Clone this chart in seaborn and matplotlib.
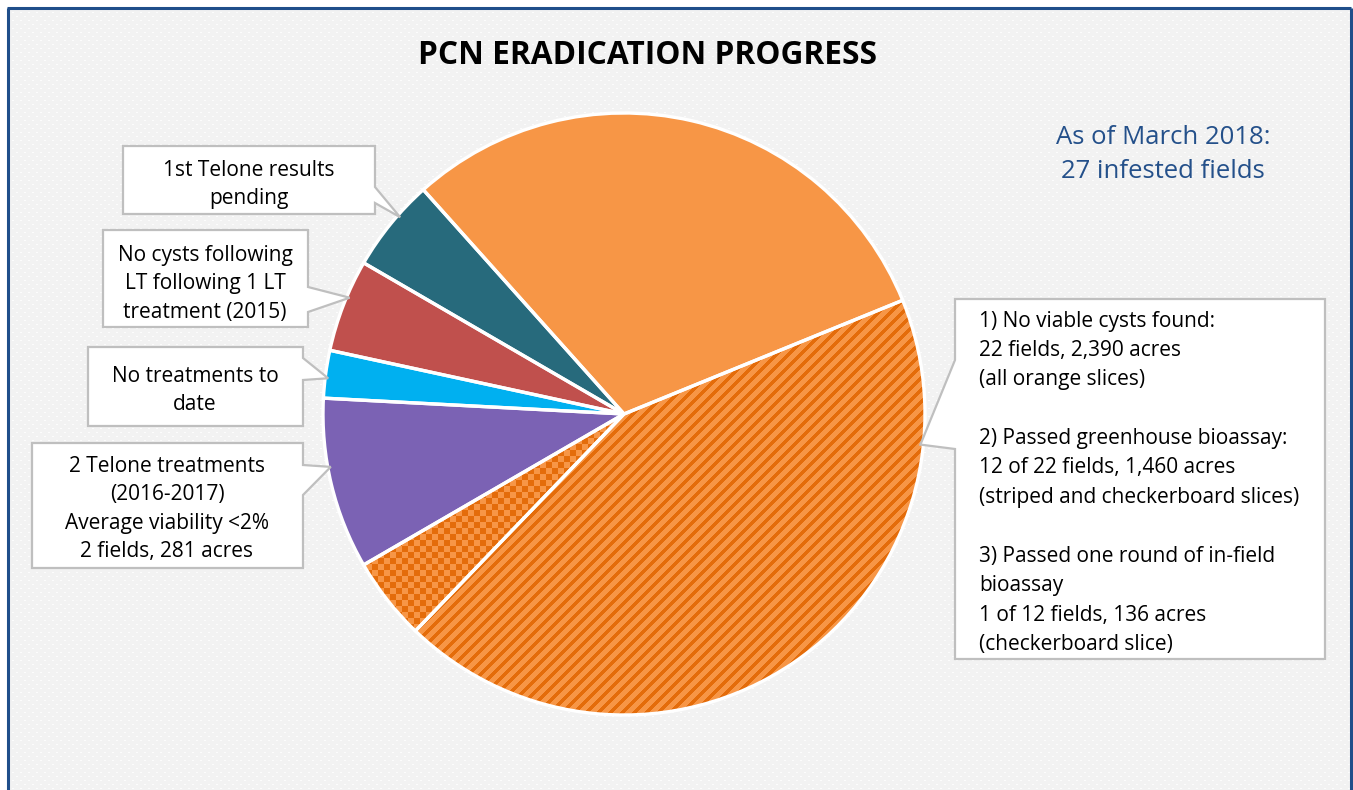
import numpy as np
import matplotlib
matplotlib.use('Agg')
import matplotlib.pyplot as plt
from matplotlib.patches import Polygon
import seaborn as sns

# slices, counter-clockwise from the right-hand edge of the plain orange slice (acres)
slices = ['No viable cysts (other)', '1st Telone results pending', 'No cysts following LT',
          'No treatments to date', '2 Telone treatments', 'Passed in-field bioassay',
          'Passed greenhouse bioassay']
acres = [930, 153, 152, 78, 281, 136, 1324]
colors = ['#f79646', '#276a7c', '#c0504d', '#00b0f0', '#7b62b4', '#f79646', '#f79646']
fills = ['solid', 'solid', 'solid', 'solid', 'solid', 'checker', 'stripe']

title = 'PCN ERADICATION PROGRESS'
note = ['As of March 2018:', '27 infested fields']

callout_lines = {
    1: ['1st Telone results', 'pending'],
    2: ['No cysts following', 'LT following 1 LT', 'treatment (2015)'],
    3: ['No treatments to', 'date'],
    4: ['2 Telone treatments', '(2016-2017)', 'Average viability <2%', '2 fields, 281 acres'],
    6: ['1) No viable cysts found:', '22 fields, 2,390 acres', '(all orange slices)', '',
        '2) Passed greenhouse bioassay:', '12 of 22 fields, 1,460 acres',
        '(striped and checkerboard slices)', '',
        '3) Passed one round of in-field', 'bioassay', '1 of 12 fields, 136 acres',
        '(checkerboard slice)'],
}

W, H = 1353, 790
sns.set_theme(style='white')
plt.rcParams['font.family'] = ['Open Sans', 'DejaVu Sans']

fig = plt.figure(figsize=(W / 100, H / 100), dpi=100)
ax = fig.add_axes([0, 0, 1, 1])


def py(y):
    # pixel row (from top) to data y
    return H - y


# background: light gray with a fine white dot pattern, inside a blue frame
bg = np.ones((H, W, 3))
rr, cc = np.mgrid[0:H, 0:W]
inner = np.full((H, W), 0xf2 / 255.0)
dots = ((rr % 4 < 1) & ((cc + (rr // 4 % 2) * 4) % 8 < 2))
inner[dots] = 0.99
bg[9:, 9:W - 3] = inner[9:, 9:W - 3, None]
ax.imshow(bg, extent=(0, W, 0, H), origin='upper', interpolation='nearest', zorder=0)
frame_c = '#1f4e8a'
ax.plot([8, 8], [0, py(8)], color=frame_c, lw=2.2, solid_capstyle='butt', zorder=1)
ax.plot([7, W - 2], [py(8), py(8)], color=frame_c, lw=2.2, solid_capstyle='butt', zorder=1)
ax.plot([W - 2, W - 2], [0, py(8)], color=frame_c, lw=2.2, solid_capstyle='butt', zorder=1)

cx, cy, rad = 624, py(414), 301
start = 22.2
wedges, _ = ax.pie(acres, colors=colors, startangle=start, counterclock=True,
                   center=(cx, cy), radius=rad, frame=True,
                   wedgeprops=dict(edgecolor='none', linewidth=0, zorder=2))

# pattern fills clipped to their wedges
dark = np.array([0xe4, 0x6c, 0x0a]) / 255.0
light = np.array([0xf7, 0x96, 0x46]) / 255.0
stripe = ((cc + rr) % 12) < 5
checker = ((cc // 6 + rr // 6) % 2) == 0
for w, f in zip(wedges, fills):
    if f == 'solid':
        continue
    mask = stripe if f == 'stripe' else checker
    img = np.where(mask[..., None], dark, light)
    im = ax.imshow(img, extent=(0, W, 0, H), origin='upper', interpolation='nearest', zorder=2.5)
    im.set_clip_path(w)

# white separators and rim
ax.pie(acres, colors=['none'] * len(acres), startangle=start, counterclock=True,
       center=(cx, cy), radius=rad, frame=True,
       wedgeprops=dict(edgecolor='white', linewidth=2.4, fill=False, zorder=3))

# callout boxes: (left, top, right, bottom) in pixels, tail base on the box side, position in slice
boxes = {
    1: dict(box=(123, 146, 375, 214), side='right', base=(187, 203), frac=0.38, cx=249, y0=170),
    2: dict(box=(103, 230, 308, 327), side='right', base=(287, 312), frac=0.40, cx=205, y0=255),
    3: dict(box=(88, 347, 303, 426), side='right', base=(358, 380), frac=0.58, cx=195, y0=376),
    4: dict(box=(32, 443, 303, 568), side='right', base=(465, 495), frac=0.40, cx=167, y0=466),
    6: dict(box=(955, 299, 1325, 659), side='left', base=(360, 449), frac=0.82, cx=979, y0=321),
}
edge_c = '#bfbfbf'
for i, b in boxes.items():
    w = wedges[i]
    ang = np.deg2rad(w.theta1 + b['frac'] * (w.theta2 - w.theta1))
    tip = (cx + 0.99 * rad * np.cos(ang), cy + 0.99 * rad * np.sin(ang))
    L, T, R, B = b['box']
    t1, t2 = b['base']
    if b['side'] == 'right':
        verts = [(L, T), (R, T), (R, t1), None, (R, t2), (R, B), (L, B)]
    else:
        verts = [(L, T), (R, T), (R, B), (L, B), (L, t2), None, (L, t1)]
    pts = [tip if v is None else (v[0], py(v[1])) for v in verts]
    ax.add_patch(Polygon(pts, closed=True, facecolor='white', edgecolor=edge_c,
                         lw=1.6, joinstyle='miter', zorder=4))
    lines = callout_lines[i]
    step = 28.6 if i != 6 else 29.4
    for k, line in enumerate(lines):
        if not line:
            continue
        ax.text(b['cx'], py(b['y0'] + k * step), line, fontsize=15, color='black',
                ha='center' if b['side'] == 'right' else 'left', va='center', zorder=5)

ax.text(648, py(56), title, fontsize=22.8, fontweight='bold', color='black',
        ha='center', va='center', zorder=5)
for k, line in enumerate(note):
    ax.text(1163, py(137 + k * 35), line, fontsize=18.5, color='#24508a',
            ha='center', va='center', zorder=5)

ax.set_xlim(0, W)
ax.set_ylim(0, H)
ax.set_aspect('equal', adjustable='box')
ax.axis('off')

fig.savefig('out.png', dpi=100)
